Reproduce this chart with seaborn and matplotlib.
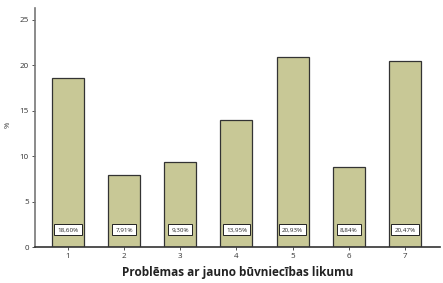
from matplotlib import pyplot as plt
import numpy as np
import pandas as pd
import seaborn as sns

categories = ['1', '2', '3', '4', '5', '6', '7']
values = [18.60, 7.91, 9.30, 13.95, 20.93, 8.84, 20.47]
value_labels = ['18,60%', '7,91%', '9,30%', '13,95%', '20,93%', '8,84%', '20,47%']

df = pd.DataFrame({'cat': categories, 'val': values})

sns.set_style('white')
plt.rcParams['font.family'] = ['Open Sans', 'DejaVu Sans']

fig = plt.figure(figsize=(4.43, 2.83), dpi=100)
ax = fig.add_axes([0.079, 0.127, 0.914, 0.845])

sns.barplot(data=df, x='cat', y='val', color='#c8c896', saturation=1,
            width=0.57, edgecolor='#333333', linewidth=0.9, ax=ax)

for i, lab in enumerate(value_labels):
    ax.text(i, 1.9, lab, ha='center', va='center', fontsize=4.5,
            bbox=dict(boxstyle='square,pad=0.5', fc='white', ec='#222222', lw=0.7))

ax.set_xlim(-0.59, 6.625)
ax.set_ylim(0, 26.3)
ax.set_yticks([0, 5, 10, 15, 20, 25])
sns.despine(ax=ax)
ax.spines['left'].set_color('#777777')
ax.spines['left'].set_linewidth(1.2)
ax.spines['bottom'].set_color('#333333')
ax.spines['bottom'].set_linewidth(1.2)
ax.tick_params(axis='both', which='both', length=2.5, width=0.6, labelsize=5.8,
               colors='#333333', pad=2, bottom=True, left=True)
ax.set_xlabel('Problēmas ar jauno būvniecības likumu', fontsize=8.5,
              fontweight='bold', color='#222222', labelpad=4)
ax.set_ylabel('%', fontsize=5.5, color='#333333')
ax.yaxis.set_label_coords(-0.057, 0.51)

fig.savefig('out.png', dpi=100)
